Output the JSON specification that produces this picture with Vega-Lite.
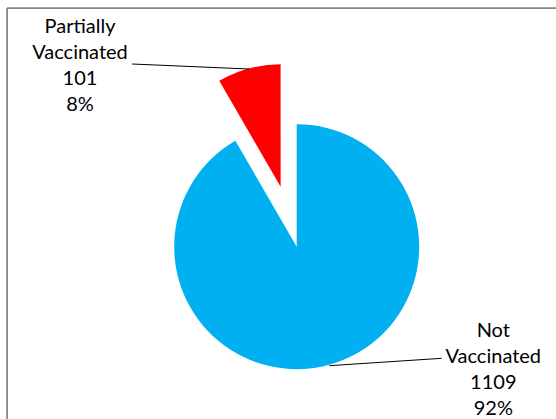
{
  "$schema": "https://vega.github.io/schema/vega-lite/v6.json",
  "width": 549,
  "height": 411,
  "autosize": "none",
  "padding": {"left": 7, "top": 8, "right": 0, "bottom": 0},
  "background": "white",
  "config": {"view": {"stroke": "#868686", "strokeWidth": 1}},
  "data": {
    "values": [
      {"status": "Not Vaccinated", "count": 1109, "label": "Not\nVaccinated\n1109\n92%"},
      {"status": "Partially Vaccinated", "count": 101, "label": "Partially\nVaccinated\n101\n8%"}
    ]
  },
  "layer": [
    {
      "mark": {"type": "rule", "color": "#868686", "strokeWidth": 1},
      "encoding": {"x": {"value": 0}}
    },
    {
      "mark": {"type": "rule", "color": "#868686", "strokeWidth": 1},
      "encoding": {"y": {"value": 0}}
    },
    {
      "mark": {
        "type": "arc",
        "outerRadius": 122.5,
        "x": {"expr": "width/2 + 15.2 + (datum.status === 'Partially Vaccinated' ? -16.1 : 0)"},
        "y": {"expr": "height/2 + 33.2 + (datum.status === 'Partially Vaccinated' ? -59.9 : 0)"}
      },
      "encoding": {
        "theta": {"field": "count", "type": "quantitative", "stack": true},
        "color": {
          "field": "status",
          "type": "nominal",
          "scale": {"domain": ["Not Vaccinated", "Partially Vaccinated"], "range": ["#00B0F0", "#FF0000"]},
          "legend": null
        }
      }
    },
    {
      "mark": {"type": "rule", "color": "#000000", "strokeWidth": 1},
      "encoding": {
        "x": {"value": {"expr": "width/2 + 15.2 + (datum.status === 'Partially Vaccinated' ? -164.7 : 32.6)"}},
        "y": {"value": {"expr": "height/2 + 33.2 + (datum.status === 'Partially Vaccinated' ? -182.7 : 119)"}},
        "x2": {"value": {"expr": "width/2 + 15.2 + (datum.status === 'Partially Vaccinated' ? -47.7 : 145)"}},
        "y2": {"value": {"expr": "height/2 + 33.2 + (datum.status === 'Partially Vaccinated' ? -177.7 : 111.6)"}}
      }
    },
    {
      "mark": {
        "type": "text",
        "radius": 150,
        "font": "Lato",
        "fontSize": 20,
        "lineBreak": "\n",
        "lineHeight": 26,
        "align": "center",
        "baseline": "middle",
        "color": "#000000",
        "x": {"expr": "width/2 + 15.2"},
        "y": {"expr": "height/2 + 33.2"},
        "dx": {"expr": "datum.status === 'Partially Vaccinated' ? -177.8 : 157.7"},
        "dy": {"expr": "datum.status === 'Partially Vaccinated' ? -74.8 : -60.6"}
      },
      "encoding": {
        "theta": {"field": "count", "type": "quantitative", "stack": true},
        "detail": {"field": "status", "type": "nominal"},
        "text": {"field": "label", "type": "nominal"}
      }
    }
  ]
}
